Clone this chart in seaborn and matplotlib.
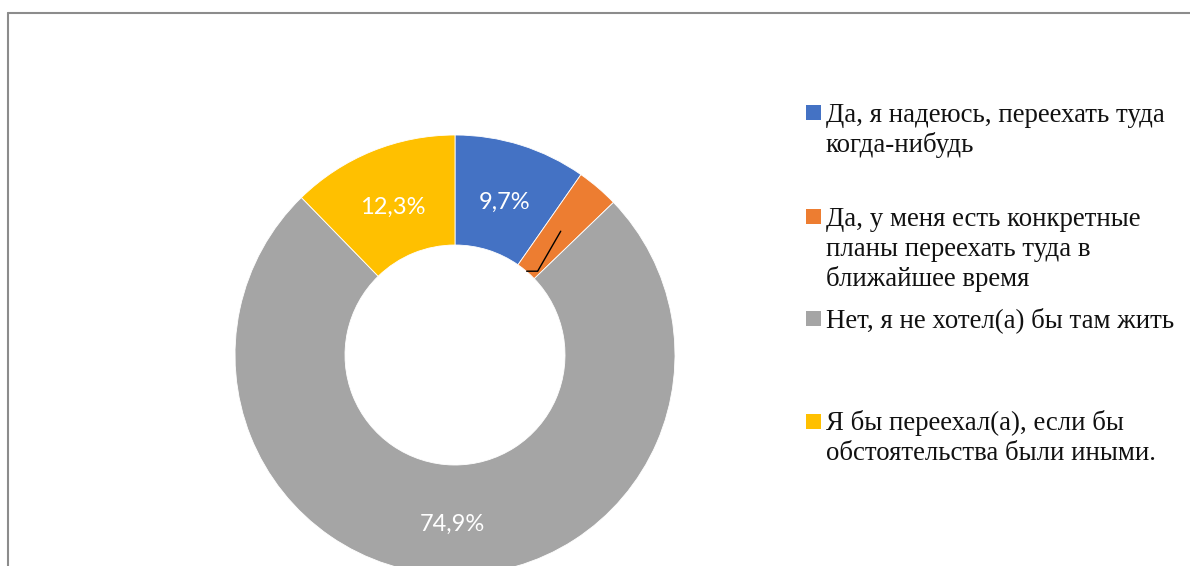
import numpy as np
import matplotlib
matplotlib.use("Agg")
import matplotlib.pyplot as plt
from matplotlib.lines import Line2D
from matplotlib.patches import Rectangle
import seaborn as sns

# Survey answers and their shares (percent)
categories = [
    "Да, я надеюсь, переехать туда\nкогда-нибудь",
    "Да, у меня есть конкретные\nпланы переехать туда в\nближайшее время",
    "Нет, я не хотел(а) бы там жить",
    "Я бы переехал(а), если бы\nобстоятельства были иными.",
]
shares = [9.7, 3.1, 74.9, 12.3]
shown_labels = ["9,7%", "", "74,9%", "12,3%"]
colors = ["#4472C4", "#ED7D31", "#A5A5A5", "#FFC000"]

sns.set_theme(style="white")
plt.rcParams["font.family"] = ["Lato", "DejaVu Sans"]

W, H = 1190, 566
fig = plt.figure(figsize=(W / 100, H / 100), dpi=100)
fig.patch.set_facecolor("white")

# Chart frame (left and top edges visible)
fig.add_artist(Line2D([7.5 / W, 7.5 / W], [0, 1 - 12.5 / H], transform=fig.transFigure,
                      color="#8c8c8c", lw=1.5))
fig.add_artist(Line2D([7.5 / W, 1], [1 - 12.5 / H, 1 - 12.5 / H], transform=fig.transFigure,
                      color="#8c8c8c", lw=1.5))

# Donut axes: centre (455, 355) px, outer radius 220 px
cx, cy, R = 455, 355, 220
ax = fig.add_axes([(cx - R) / W, (H - cy - R) / H, 2 * R / W, 2 * R / H])

wedges, _ = ax.pie(shares, colors=colors, startangle=90, counterclock=False,
                   radius=1.0, wedgeprops=dict(width=0.5, edgecolor="white", linewidth=0.6))
ax.set_xlim(-1, 1)
ax.set_ylim(-1, 1)
ax.set_aspect("equal")
ax.axis("off")

# Value labels inside the ring
for w, lab in zip(wedges, shown_labels):
    if not lab:
        continue
    mid = np.deg2rad((w.theta1 + w.theta2) / 2)
    r = 0.75
    ax.text(r * np.cos(mid), r * np.sin(mid) - 0.022, lab, ha="center", va="center",
            color="white", fontsize=17, family=["Lato", "DejaVu Sans"])

# Leader line for the small slice
w = wedges[1]
mid = (w.theta1 + w.theta2) / 2
p1 = (0.74 * np.cos(np.deg2rad(mid)), 0.74 * np.sin(np.deg2rad(mid)))
a2 = np.deg2rad(mid - 4.1)
p2 = (0.535 * np.cos(a2), 0.535 * np.sin(a2))
p3 = (p2[0] - 0.05, p2[1])
ax.plot([p1[0], p2[0], p3[0]], [p1[1], p2[1], p3[1]], color="black", lw=1.0,
        solid_joinstyle="miter")

# Legend on the right: marker square, then wrapped label lines on fixed baselines
marker_centres = [112.5, 216, 318, 421]
line_step = 30
for lab, col, yc in zip(categories, colors, marker_centres):
    fig.add_artist(Rectangle((806 / W, (H - yc - 7.5) / H), 15 / W, 15 / H,
                             transform=fig.transFigure, facecolor=col, edgecolor="none"))
    for i, line in enumerate(lab.split("\n")):
        base = yc + 9.5 + i * line_step
        fig.text(826 / W, (H - base) / H, line, ha="left", va="baseline",
                 fontsize=19.4, family=["Liberation Serif", "DejaVu Serif"],
                 color="#111111")

fig.savefig("out.png", dpi=100, facecolor="white")
